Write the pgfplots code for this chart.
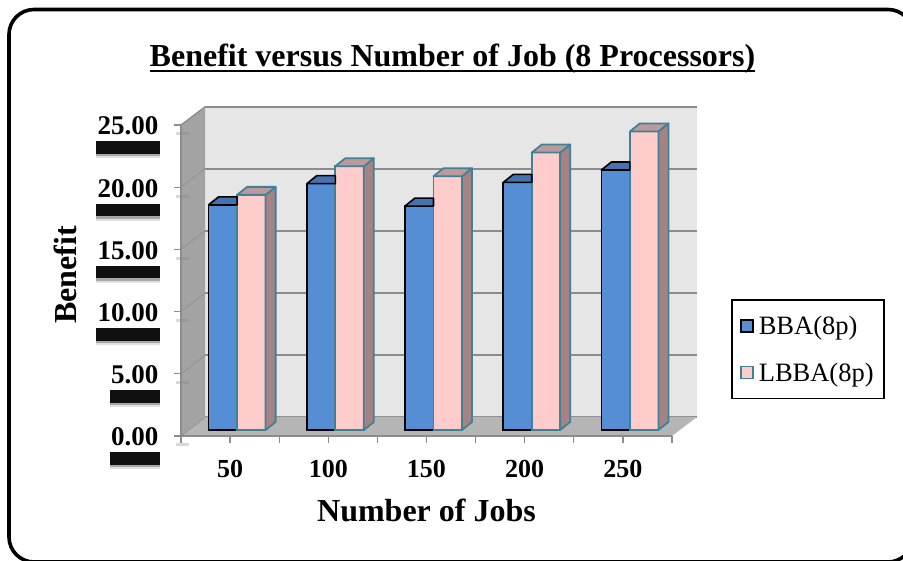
\documentclass[border=0pt]{standalone}
\usepackage{fontspec}
\setmainfont{Liberation Serif}
\usepackage{pgfplots}
\pgfplotsset{compat=1.18}
\usepackage{pgfplotstable}

\definecolor{bbafill}{HTML}{558ED5}
\definecolor{bbatop}{HTML}{4573B0}
\definecolor{lbbafill}{HTML}{FFCCCC}
\definecolor{lbbatop}{HTML}{BC9A9C}
\definecolor{lbbaside}{HTML}{A58284}
\definecolor{lbbaedge}{HTML}{3F8296}
\definecolor{wallback}{HTML}{E6E6E6}
\definecolor{wallside}{HTML}{A3A3A3}
\definecolor{wallfloor}{HTML}{B5B5B5}
\definecolor{gridcol}{HTML}{8C8C8C}

% benefit per job count
\pgfplotstableread{
x   y
0.5 18.1
1.5 19.8
2.5 18.0
3.5 19.9
4.5 20.9
}\bbatable
\pgfplotstableread{
x   y
0.5 18.9
1.5 21.2
2.5 20.4
3.5 22.3
4.5 24.0
}\lbbatable

% top face of the dark bar, cut where the neighbouring bar begins
\pgfdeclareplotmark{bbabox}{%
  \path[fill=bbatop,draw=black,line width=1.6pt,line join=round]
    (-14.25pt,0pt) -- (-4.25pt,8pt) -- (14.25pt,8pt) -- (14.25pt,0pt) -- cycle;
}
% side and top faces of the light bar, the mark sits on the top centre of the front face
\pgfdeclareplotmark{lbbabox}{%
  \pgfmathsetmacro\barh{\ry*12.44}%
  \path[fill=lbbaside,draw=lbbaedge,line width=1.8pt,line join=round]
    (14.25pt,0pt) -- (24.25pt,8pt) -- (24.25pt,{(8-\barh)*1pt}) -- (14.25pt,{-\barh*1pt}) -- cycle;
  \path[fill=lbbatop,draw=lbbaedge,line width=1.8pt,line join=round]
    (-14.25pt,0pt) -- (-4.25pt,8pt) -- (24.25pt,8pt) -- (14.25pt,0pt) -- cycle;
}

\pgfplotsset{
  boxfaces/.style={
    only marks, scatter, forget plot, mark=#1,
    visualization depends on={rawy \as \ry},
    scatter/@pre marker code/.code={\scope},
    scatter/@post marker code/.code={\endscope},
  },
  swatch/.style 2 args={
    legend image code/.code={
      \draw[fill=#1,draw=#2,line width=1.6pt] (0pt,-6pt) rectangle (12pt,6pt);
      \path (15pt,0pt);
    }
  },
}

\tikzset{
  softbox/.style={
    preaction={fill=black,opacity=.12,transform canvas={yshift=-17pt}},
    preaction={fill=black,opacity=.25,transform canvas={yshift=-15pt}},
    preaction={fill=black,opacity=.9,transform canvas={yshift=-12.5pt}},
  },
}

\begin{document}
\begin{tikzpicture}
\clip (0,0) rectangle (903pt,561pt);

% rounded frame
\draw[black,line width=3.6pt,rounded corners=25pt] (9pt,-1pt) rectangle (913pt,551.5pt);

% chart title
\node[font=\bfseries\fontsize{32}{32}\selectfont,anchor=base] at (452.5pt,494pt)
  {Benefit versus Number of Job (8 Processors)};
\draw[black,line width=2.4pt] (150pt,490pt) -- (755pt,490pt);

% back wall with its gridlines
\begin{axis}[
  at={(205pt,144pt)}, anchor=south west, scale only axis,
  width=492pt, height=310pt,
  xmin=0, xmax=5, ymin=0, ymax=25,
  xtick=\empty, ytick={0,5,...,25}, yticklabels={},
  major tick length=0pt,
  ymajorgrids, grid style={gridcol,line width=1.8pt},
  axis line style={draw=none},
  axis background/.style={fill=wallback},
  clip=false,
]
\end{axis}

% left wall, floor and the slanted grid segments
\fill[wallside] (181pt,125pt) -- (205pt,144pt) -- (205pt,454pt) -- (181pt,436pt) -- cycle;
\fill[wallfloor] (181pt,125pt) -- (205pt,144pt) -- (697pt,144pt) -- (672pt,125pt) -- cycle;
\foreach \k in {0,...,5} {
  \draw[gridcol,line width=.6pt] (181pt,{(125+\k*62.2)*1pt}) -- ++(24pt,18.5pt);
  \draw[gray,opacity=.3,line width=3pt] (176pt,{(116+\k*62.2)*1pt}) -- ++(13pt,0pt);
}
\draw[gridcol,line width=1.2pt] (181pt,436pt) -- (205pt,454pt);

% front plane carrying ticks, labels and bars
\begin{axis}[
  at={(181pt,125pt)}, anchor=south west, scale only axis,
  width=491pt, height=311pt,
  xmin=0, xmax=5, ymin=0, ymax=25,
  clip=false,
  axis x line*=bottom, axis y line*=left,
  axis line style={gridcol,line width=1.6pt,-},
  tick align=outside, major tick length=7pt, minor tick length=7pt,
  every tick/.style={gridcol,line width=1.2pt},
  xtick={0.5,1.5,2.5,3.5,4.5},
  xticklabels={50,100,150,200,250},
  minor xtick={0,1,2,3,4,5},
  ytick={0,5,...,25},
  yticklabel style={
    /pgf/number format/fixed, /pgf/number format/fixed zerofill,
    /pgf/number format/precision=2, /pgf/number format/assume math mode=true,
    font=\bfseries\fontsize{27}{27}\selectfont,
    fill=white, inner sep=1.5pt, text height=18pt, text depth=5pt, softbox,
    xshift=-14pt, yshift=-3.5pt,
  },
  xticklabel style={
    font=\bfseries\fontsize{26}{26}\selectfont, yshift=-14pt,
  },
  xlabel={Number of Jobs}, ylabel={Benefit},
  xlabel style={font=\bfseries\fontsize{32}{32}\selectfont, at={(0.5,0)}, anchor=base, yshift=-86pt},
  ylabel style={font=\bfseries\fontsize{32}{32}\selectfont, at={(0,0.518)}, anchor=base, yshift=104pt},
  legend style={
    at={(1.12,0.4405)}, anchor=north west, draw=black, line width=1.6pt,
    font=\fontsize{26.5}{26.5}\selectfont, fill=white,
    inner xsep=8.5pt, inner ysep=14pt, row sep=23pt,
  },
  legend cell align=left,
]
\addlegendimage{swatch={bbafill}{black}}
\addlegendentry{BBA(8p)}
\addlegendimage{swatch={lbbafill}{lbbaedge}}
\addlegendentry{LBBA(8p)}

\addplot[boxfaces=bbabox, xshift=-7.25pt, yshift=6pt] table[x=x,y=y] {\bbatable};
\addplot[ybar, forget plot, bar width=28.5pt, bar shift=-14.25pt, xshift=7pt, yshift=6pt,
  fill=bbafill, draw=black, line width=1.6pt] table[x=x,y=y] {\bbatable};
\addplot[boxfaces=lbbabox, xshift=21.25pt, yshift=6pt] table[x=x,y=y] {\lbbatable};
\addplot[ybar, forget plot, bar width=28.5pt, bar shift=14.25pt, xshift=7pt, yshift=6pt,
  fill=lbbafill, draw=lbbaedge, line width=1.8pt] table[x=x,y=y] {\lbbatable};
\end{axis}
\end{tikzpicture}
\end{document}
